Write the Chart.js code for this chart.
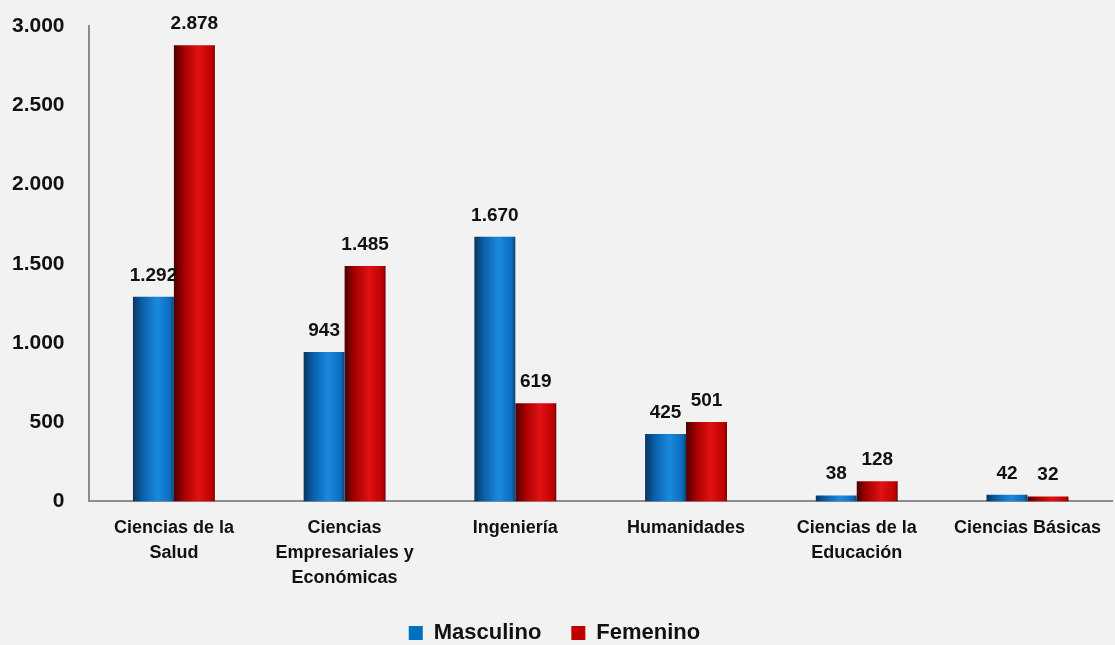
<!DOCTYPE html>
<html>
<head>
<meta charset="utf-8">
<script src="https://cdn.jsdelivr.net/npm/chart.js@4.4.1/dist/chart.umd.min.js"></script>
<style>
  html, body { margin: 0; padding: 0; background: #f2f2f2; }
  #wrap { width: 1115px; height: 645px; }
</style>
</head>
<body>
<div id="wrap"><canvas id="barChart"></canvas></div>
<script>
var categories = [
    ['Ciencias de la', 'Salud'],
    ['Ciencias', 'Empresariales y', 'Económicas'],
    'Ingeniería',
    'Humanidades',
    ['Ciencias de la', 'Educación'],
    'Ciencias Básicas'
];
var masculino = [1292, 943, 1670, 425, 38, 42];
var femenino = [2878, 1485, 619, 501, 128, 32];
var yTicks = [0, 500, 1000, 1500, 2000, 2500, 3000];

var FONT = '"Liberation Sans Narrow", "Arial Narrow", "Liberation Sans", Arial, sans-serif';
var CAT_PCT = 0.48;

function fmt(v) {
    return v.toString().replace(/\B(?=(\d{3})+(?!\d))/g, '.');
}

// cylinder-like shading, like the original bars
function barGradient(stops, side) {
    return function (ctx) {
        var chart = ctx.chart;
        var xs = chart.scales.x;
        if (!xs || ctx.dataIndex === undefined) return stops[2][1];
        var catW = xs.width / categories.length;
        var w = catW * CAT_PCT / 2;
        var center = xs.getPixelForValue(ctx.dataIndex);
        var left = side === 0 ? center - w : center;
        var g = chart.ctx.createLinearGradient(left, 0, left + w, 0);
        stops.forEach(function (s) { g.addColorStop(s[0], s[1]); });
        return g;
    };
}

var blueStops = [[0, '#0a3560'], [0.25, '#0a62ad'], [0.6, '#1a8ade'], [0.9, '#0c6cc0'], [1, '#0a4578']];
var redStops = [[0, '#4a0000'], [0.25, '#a80000'], [0.6, '#e01212'], [0.92, '#c00000'], [1, '#7a0000']];

var valueLabels = {
    id: 'valueLabels',
    afterDatasetsDraw: function (chart) {
        var c = chart.ctx;
        c.save();
        c.font = 'bold 19px ' + FONT;
        c.fillStyle = '#111111';
        c.textAlign = 'center';
        c.textBaseline = 'alphabetic';
        chart.data.datasets.forEach(function (ds, di) {
            chart.getDatasetMeta(di).data.forEach(function (bar, i) {
                c.fillText(fmt(ds.data[i]), bar.x, bar.y - 16);
            });
        });
        c.restore();
    }
};

var ctx = document.getElementById('barChart').getContext('2d');
var chart = new Chart(ctx, {
    type: 'bar',
    data: {
        labels: categories,
        datasets: [{
            label: 'Masculino',
            data: masculino,
            backgroundColor: barGradient(blueStops, 0),
            borderWidth: 0
        }, {
            label: 'Femenino',
            data: femenino,
            backgroundColor: barGradient(redStops, 1),
            borderWidth: 0
        }]
    },
    options: {
        responsive: true,
        maintainAspectRatio: false,
        animation: false,
        datasets: {
            bar: { categoryPercentage: CAT_PCT, barPercentage: 1 }
        },
        layout: { padding: { top: 0, right: -6, left: -12, bottom: -9 } },
        plugins: {
            legend: {
                position: 'bottom',
                labels: {
                    boxWidth: 14,
                    boxHeight: 14,
                    padding: 30,
                    color: '#111111',
                    font: { family: FONT, size: 22, weight: 'bold' },
                    generateLabels: function (chart) {
                        var cols = ['#0070c0', '#c00000'];
                        return chart.data.datasets.map(function (ds, i) {
                            return {
                                text: ds.label,
                                fillStyle: cols[i],
                                strokeStyle: cols[i],
                                lineWidth: 0,
                                datasetIndex: i,
                                fontColor: '#111111'
                            };
                        });
                    }
                }
            },
            tooltip: { enabled: false }
        },
        scales: {
            x: {
                grid: { display: false, drawTicks: false },
                border: { color: '#8c8c8c', width: 2 },
                afterFit: function (scale) { scale.height -= 12; },
                ticks: {
                    color: '#111111',
                    padding: 14,
                    maxRotation: 0,
                    autoSkip: false,
                    font: { family: FONT, size: 18, weight: 'bold', lineHeight: 1.38 }
                }
            },
            y: {
                min: 0,
                max: 3000,
                afterBuildTicks: function (axis) {
                    axis.ticks = yTicks.map(function (v) { return { value: v }; });
                },
                afterFit: function (scale) { scale.paddingTop = 26; },
                grid: { display: false, drawTicks: false },
                border: { color: '#8c8c8c', width: 2 },
                ticks: {
                    color: '#111111',
                    padding: 24,
                    font: { family: FONT, size: 21, weight: 'bold' },
                    callback: function (v) { return fmt(v); }
                }
            }
        }
    },
    plugins: [valueLabels]
});
</script>
</body>
</html>
